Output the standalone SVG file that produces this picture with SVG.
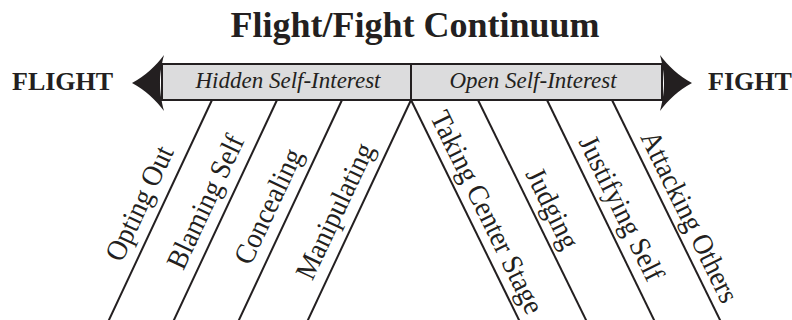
<svg xmlns="http://www.w3.org/2000/svg" width="792" height="320" viewBox="0 0 792 320">
<style>
  text { font-family: "Liberation Serif", "Times New Roman", serif; fill: #231f20; }
  .title { font-size: 36px; font-weight: bold; }
  .end { font-size: 26px; font-weight: bold; }
  .band { font-size: 23px; font-style: italic; }
  .lbl { font-size: 29px; }
  .ln { stroke: #231f20; stroke-width: 2; fill: none; }
  .head { fill: #231f20; stroke: none; }
</style>
<rect width="792" height="320" fill="#ffffff"/>
<g id="title"><text class="title" x="415" y="37" text-anchor="middle">Flight/Fight Continuum</text></g>
<g id="flight"><text class="end" x="12" y="90">FLIGHT</text></g>
<g id="fight"><text class="end" x="708" y="90">FIGHT</text></g>
<g id="continuum-bar">
  <rect x="162" y="64" width="500" height="36" fill="#dcdcdd" stroke="#231f20" stroke-width="2"/>
  <line class="ln" x1="411" y1="64" x2="411" y2="100"/>
  <path class="head" d="M132,83 C145,76 156,66 164,55 C161,66 160,75 160,83 C160,91 161,100 164,111 C156,100 145,90 132,83 Z"/>
  <path class="head" d="M692,83 C679,76 668,66 660,55 C663,66 664,75 664,83 C664,91 663,100 660,111 C668,100 679,90 692,83 Z"/>
  <text class="band" x="288" y="88" text-anchor="middle">Hidden Self-Interest</text>
  <text class="band" x="533" y="88" text-anchor="middle">Open Self-Interest</text>
</g>
<g id="connectors">
  <line class="ln" x1="212" y1="100" x2="108" y2="322"/>
  <line class="ln" x1="277" y1="100" x2="173" y2="322"/>
  <line class="ln" x1="342" y1="100" x2="238" y2="322"/>
  <line class="ln" x1="411" y1="100" x2="307" y2="322"/>
  <line class="ln" x1="411" y1="100" x2="520" y2="322"/>
  <line class="ln" x1="478" y1="100" x2="587" y2="322"/>
  <line class="ln" x1="547" y1="100" x2="655" y2="322"/>
  <line class="ln" x1="612" y1="100" x2="721" y2="322"/>
</g>
<g id="opting-out"><text class="lbl" text-anchor="middle" transform="translate(148,207.5) rotate(-64.8) scale(0.94,1)">Opting Out</text></g>
<g id="blaming-self"><text class="lbl" text-anchor="middle" transform="translate(214,205.8) rotate(-64.8) scale(0.94,1)">Blaming Self</text></g>
<g id="concealing"><text class="lbl" text-anchor="middle" transform="translate(276.8,210.3) rotate(-64.8) scale(0.94,1)">Concealing</text></g>
<g id="manipulating"><text class="lbl" text-anchor="middle" transform="translate(343.5,215.2) rotate(-64.8) scale(0.94,1)">Manipulating</text></g>
<g id="taking-center-stage"><text class="lbl" text-anchor="middle" transform="translate(478.6,216.5) rotate(63.9) scale(0.94,1)">Taking Center Stage</text></g>
<g id="judging"><text class="lbl" text-anchor="middle" transform="translate(544,212.5) rotate(63.9) scale(0.94,1)">Judging</text></g>
<g id="justifying-self"><text class="lbl" text-anchor="middle" transform="translate(613,212.5) rotate(63.9) scale(0.94,1)">Justifying Self</text></g>
<g id="attacking-others"><text class="lbl" text-anchor="middle" transform="translate(681,221) rotate(63.9) scale(0.94,1)">Attacking Others</text></g>
</svg>
